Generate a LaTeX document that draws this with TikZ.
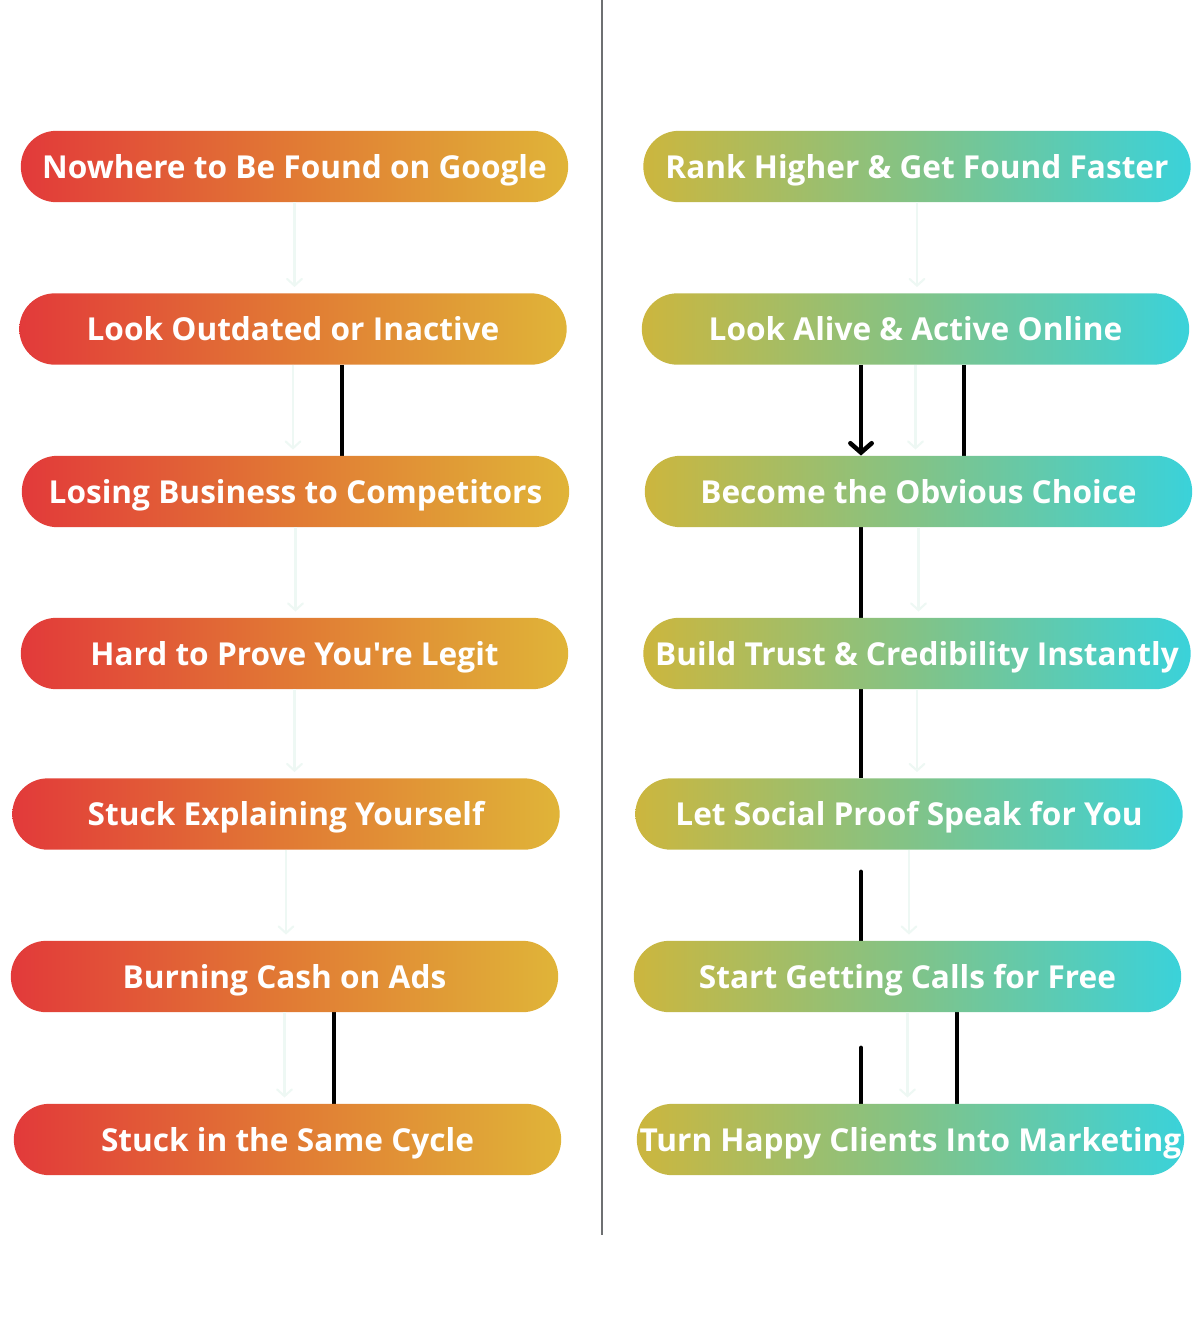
\documentclass[tikz,border=0pt]{standalone}
\usepackage{fontspec}
\setmainfont{Open Sans}[Ligatures=TeXOff]
\usetikzlibrary{arrows.meta,calc,backgrounds}
\definecolor{redc}{RGB}{226,58,58}
\definecolor{orangec}{RGB}{225,122,52}
\definecolor{goldc}{RGB}{224,180,56}
\definecolor{olivec}{RGB}{204,182,62}
\definecolor{greenc}{RGB}{130,195,135}
\definecolor{cyanc}{RGB}{58,210,218}
\definecolor{divc}{RGB}{110,112,114}
\definecolor{paleline}{RGB}{238,248,244}
\tikzset{
  pill/.style={rounded corners=26.6pt, minimum width=410.5pt, minimum height=53.5pt,
    inner sep=0pt, text=white, text height=17.3pt, text depth=0pt,
    font=\bfseries\fontsize{23.7}{27}\selectfont},
  badbox/.style={pill, left color=redc, right color=goldc, middle color=orangec},
  goodbox/.style={pill, left color=olivec, right color=cyanc, middle color=greenc},
  faint/.style={draw=paleline, line width=1.6pt, -{Straight Barb[length=5pt,width=11pt,line cap=round]}},
  blackline/.style={draw=black, line width=3.6pt},
  blackarrow/.style={blackline, -{Straight Barb[length=7pt,width=16pt,line cap=round,line width=3.4pt]}},
  divider/.style={draw=divc, line width=2.2pt}
}
\begin{document}
\begin{tikzpicture}[x=0.75pt,y=-0.75pt]
\useasboundingbox (0,0) rectangle (1200,1340);
\draw[divider] (602,0) -- (602,1235);
% left column
\node[badbox] (L1) at (294.5,166.5) {Nowhere to Be Found on Google};
\node[badbox] (L2) at (293,329) {Look Outdated or Inactive};
\node[badbox] (L3) at (295.5,491.5) {Losing Business to Competitors};
\node[badbox] (L4) at (294.5,653.5) {Hard to Prove You're Legit};
\node[badbox] (L5) at (286,814) {Stuck Explaining Yourself};
\node[badbox] (L6) at (284.5,976.5) {Burning Cash on Ads};
\node[badbox] (L7) at (287.5,1139.5) {Stuck in the Same Cycle};
% right column
\node[goodbox] (R1) at (917,166.5) {Rank Higher \& Get Found Faster};
\node[goodbox] (R2) at (915.5,329) {Look Alive \& Active Online};
\node[goodbox] (R3) at (918.5,491.5) {Become the Obvious Choice};
\node[goodbox] (R4) at (917,653.5) {Build Trust \& Credibility Instantly};
\node[goodbox] (R5) at (909,814) {Let Social Proof Speak for You};
\node[goodbox] (R6) at (907.5,976.5) {Start Getting Calls for Free};
\node[goodbox] (R7) at (910.5,1139.5) {Turn Happy Clients Into Marketing};
% faint arrows
\foreach \a/\b in {L1/L2,L2/L3,L3/L4,L4/L5,L5/L6,L6/L7,R1/R2,R2/R3,R3/R4,R4/R5,R5/R6,R6/R7}{
  \draw[faint] (\a.south) -- ($(\a.south |- \b.north)+(0,-6)$);
}
% black connectors
\coordinate (xl1) at (342,0);
\coordinate (xl2) at (334,0);
\coordinate (xr1) at (861,0);
\coordinate (xr2) at (964,0);
\coordinate (xr3) at (957,0);
\coordinate (t5) at (861,872);
\coordinate (t6) at (861,1048);
\begin{scope}[on background layer]
\draw[blackline] (L2.south -| xl1) -- (L3.north -| xl1);
\draw[blackline] (L6.south -| xl2) -- (L7.north -| xl2);
\draw[blackline] (R2.south -| xr2) -- (R3.north -| xr2);
\draw[blackline] (R3.south -| xr1) -- (R4.north -| xr1);
\draw[blackline] (R4.south -| xr1) -- (R5.north -| xr1);
\draw[blackline,line cap=round] (t5) -- (R6.north -| xr1);
\draw[blackline,line cap=round] (t6) -- (R7.north -| xr1);
\draw[blackline] (R6.south -| xr3) -- (R7.north -| xr3);
\end{scope}
\draw[blackarrow] (R2.south -| xr1) -- (R3.north -| xr1);
\end{tikzpicture}
\end{document}
